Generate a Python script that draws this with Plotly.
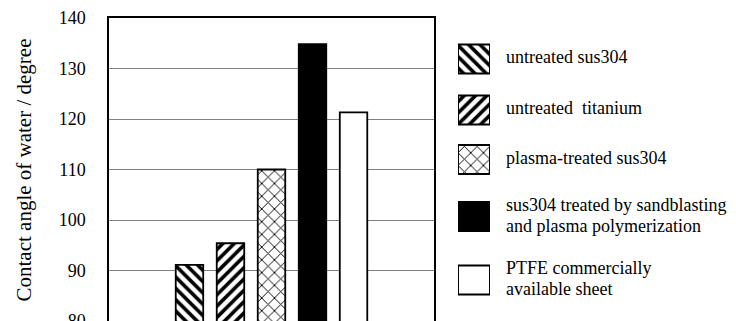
import plotly.graph_objects as go

# Contact angle of water on each surface (degrees)
series_names = [
    "untreated sus304",
    "untreated titanium",
    "plasma-treated sus304",
    "sus304 treated by sandblasting and plasma polymerization",
    "PTFE commercially available sheet",
]
legend_lines = [
    ["untreated sus304"],
    ["untreated\u00a0 titanium"],
    ["plasma-treated sus304"],
    ["sus304 treated by sandblasting", "and plasma polymerization"],
    ["PTFE commercially", "available sheet"],
]
contact_angle = [91.1, 95.4, 110.0, 134.8, 121.3]
y_ticks = [80, 90, 100, 110, 120, 130, 140]

# fill styles per series: (pattern shape, pattern size, solidity, fill colour)
fills = [
    ("\\", 8, 0.45, "white"),
    ("/", 8, 0.45, "white"),
    ("x", 9, 0.2, "white"),
    ("", 8, 0.3, "black"),
    ("", 8, 0.3, "white"),
]

# legend swatch centres (pixels from the top of the figure) and size
swatch_y = [59, 110, 159.5, 216.5, 280]
swatch_h = 29

W, H = 736, 321
FONT = "Liberation Serif, Times New Roman, serif"


def marker_for(i, lw):
    shape, size, sol, col = fills[i]
    m = dict(color=col, line=dict(color="black", width=lw))
    if shape:
        m["pattern"] = dict(shape=shape, size=size, solidity=sol,
                            fgcolor="black", bgcolor="white", fillmode="replace")
    return m


fig = go.Figure()

for i, (name, val) in enumerate(zip(series_names, contact_angle)):
    fig.add_trace(go.Bar(
        x=[""], y=[val], name=name, marker=marker_for(i, 1.8),
        xaxis="x", yaxis="y", showlegend=False,
    ))

# legend swatches drawn as bars on their own axes
for i in range(len(series_names)):
    fig.add_trace(go.Bar(
        y=[swatch_y[i]], x=[1], base=[0], orientation="h", width=[swatch_h],
        marker=marker_for(i, 2), xaxis="x2", yaxis="y2", showlegend=False,
        hoverinfo="skip",
    ))

annotations = []
for i, lines in enumerate(legend_lines):
    offsets = [0] if len(lines) == 1 else [-10, 11]
    for line, off in zip(lines, offsets):
        annotations.append(dict(
            text=line, x=504 / W, xref="paper", xanchor="left",
            y=swatch_y[i] - 2 + off, yref="y2", yanchor="middle",
            showarrow=False, font=dict(family=FONT, size=18, color="black"),
        ))

annotations.append(dict(
    text="Contact angle of water / degree", textangle=-90,
    x=23 / W, xref="paper", xanchor="center",
    y=(H - 170.5) / H, yref="paper", yanchor="middle",
    showarrow=False, font=dict(family=FONT, size=21, color="black"),
))

fig.update_layout(
    width=W, height=H,
    margin=dict(l=0, r=0, t=0, b=0, autoexpand=False),
    paper_bgcolor="white", plot_bgcolor="white",
    barmode="group", bargap=0.369, bargroupgap=0.33,
    font=dict(family=FONT, size=18, color="black"),
    xaxis=dict(
        domain=[109 / W, 434 / W], range=[-0.5, 0.5],
        showticklabels=False, ticks="", showgrid=False,
        showline=True, linecolor="black", linewidth=1.5, mirror=True,
        zeroline=False, automargin=False,
    ),
    yaxis=dict(
        domain=[0, (H - 18) / H], range=[80, 140],
        tickvals=y_ticks, ticks="", ticklabelstandoff=18,
        ticklabeloverflow="allow", automargin=False,
        tickfont=dict(family=FONT, size=18, color="black"),
        showgrid=True, gridcolor="#808080", gridwidth=1,
        showline=True, linecolor="black", linewidth=1.5, mirror=True,
        zeroline=False,
    ),
    xaxis2=dict(
        domain=[458 / W, 490 / W], range=[0, 1], visible=False,
        anchor="y2",
    ),
    yaxis2=dict(
        domain=[0, 1], range=[H, 0], visible=False, anchor="x2",
    ),
    annotations=annotations,
    showlegend=False,
)

fig.write_html("out.html")
